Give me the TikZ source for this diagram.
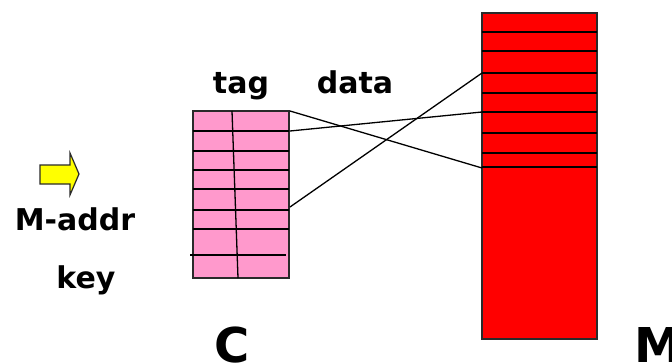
\documentclass[tikz,border=0pt]{standalone}
\usepackage{fontspec}
\setmainfont{DejaVu Sans}
\usepackage{tikz}

\definecolor{cpink}{HTML}{FF99CC}
\definecolor{mred}{HTML}{FF0000}
\definecolor{aryel}{HTML}{FFFF00}
\definecolor{edge}{HTML}{2A2A2A}

\begin{document}
\begin{tikzpicture}[x=1pt, y=-1pt, line width=1.3pt,
  lbl/.style = {font=\bfseries\fontsize{30}{34}\selectfont, anchor=base, inner sep=0pt},
  big/.style = {font=\bfseries\fontsize{48}{54}\selectfont, anchor=base, inner sep=0pt},
  cell/.style = {draw=edge, fill=cpink, line width=1.5pt},
  memcell/.style = {draw=edge, fill=mred, line width=1.5pt}]
\useasboundingbox (0,0) rectangle (672,364);

% cache
\draw[cell] (193,111) rectangle (289,278);
\foreach \y in {131,151,170,189,210,229}
  \draw (193,\y) -- (289,\y);
\draw (190,255) -- (286,255);
\draw (232,111) -- (238,278);

% memory
\draw[memcell] (482,13) rectangle (597,339);
\foreach \y in {32,51,73,93,112,133,153,167}
  \draw (482,\y) -- (597,\y);

% endpoints
\coordinate (c1) at (290,111);
\coordinate (c2) at (290,131);
\coordinate (c3) at (290,207);
\coordinate (m1) at (482,168);
\coordinate (m2) at (482,112);
\coordinate (m3) at (482,73);
\draw (c1) -- (m1);
\draw (c2) -- (m2);
\draw (c3) -- (m3);

% address arrow
\draw[fill=aryel, draw=edge, line width=1.2pt]
  (40,165) -- (70,165) -- (70,153) -- (79,174) -- (70,195) -- (70,184) -- (40,184) -- cycle;

\node[lbl] (tag) at (241,93) {tag};
\node[lbl] (data) at (355,93) {data};
\node[lbl] (addr) at (75,230) {M-addr};
\node[lbl] (key) at (86,288) {key};
\node[big] (C) at (232,362) {C};
\node[big, anchor=base west] (M) at (634,362) {M};
\end{tikzpicture}
\end{document}
